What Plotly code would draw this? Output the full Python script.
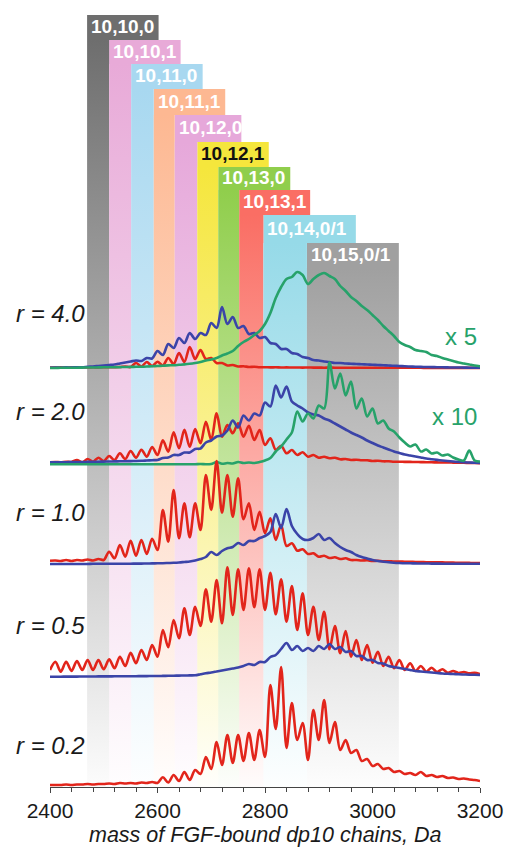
import plotly.graph_objects as go

# ---------------- data ----------------
MASS = [2400, 2410, 2420, 2430, 2440, 2450, 2460, 2470, 2480, 2490,
        2500, 2510, 2520, 2530, 2540, 2550, 2560, 2570, 2580, 2590,
        2600, 2610, 2620, 2630, 2640, 2650, 2660, 2670, 2680, 2690,
        2700, 2710, 2720, 2730, 2740, 2750, 2760, 2770, 2780, 2790,
        2800, 2810, 2820, 2830, 2840, 2850, 2860, 2870, 2880, 2890,
        2900, 2910, 2920, 2930, 2940, 2950, 2960, 2970, 2980, 2990,
        3000, 3010, 3020, 3030, 3040, 3050, 3060, 3070, 3080, 3090,
        3100, 3110, 3120, 3130, 3140, 3150, 3160, 3170, 3180, 3190, 3200]

# r = 4.0
RED_40 = [0.5, 0.5, 0.6, 0.5, 0.6, 0.5, 0.7, 0.6, 0.7, 0.6, 0.8, 0.7, 0.8,
          1, 1.5, 1,
          5, 1.5, 6, 2, 6.3, 2.5, 10, 4, 15, 6,
          21, 9, 18, 9, 10, 5, 5, 2.5, 3, 1.5,
          1.8, 1, 1.2, 0.8,
          0.8, 0.6, 0.7, 0.5, 0.6, 0.5, 0.5, 0.4, 0.5, 0.4,
          0.4, 0.3, 0.4, 0.3, 0.3, 0.3, 0.3, 0.2, 0.3, 0.2,
          0.2, 0.2, 0.2, 0.2, 0.2, 0.2, 0.2, 0.2, 0.2, 0.2,
          0.1, 0.1, 0.1, 0.1, 0.1, 0.1, 0.1, 0.1, 0.1, 0.1, 0.1]
BLUE_40 = [0.3, 0.5, 0.3, 0.6, 0.5, 0.8, 0.7, 1.2, 1.5, 2, 2.5,
           3, 3.5, 4.5, 5.5, 6.5, 7.5, 7, 10, 9.5, 17,
           13, 24, 20, 30, 25, 35, 29, 35, 33, 45,
           40, 61, 44, 51, 40, 42, 34, 35, 30, 31,
           25, 24, 19, 19, 15, 14, 11, 10, 8, 7.5,
           6.5, 6, 5, 5, 4.5, 4.3, 4, 3.8, 3.5, 3.3,
           3, 2.8, 2.5, 2.2, 2, 1.7, 1.5, 1.3, 1.1, 1,
           0.9, 0.8, 0.7, 0.6, 0.5, 0.5, 0.4, 0.3, 0.3, 0.2]
GREEN_40 = [0, 0, 0.2, 0.2, 0.3, 0.3, 0.4, 0.5, 0.5, 0.6, 0.7,
            0.8, 0.8, 0.9, 1, 1.1, 1.2, 1.3, 1.5, 1.8, 2,
            2.3, 2.6, 2.8, 3.2, 3.6, 4.2, 5, 6, 7.5, 8.5,
            10, 12.5, 14.5, 17, 22, 26, 29, 33, 37, 44,
            55, 70, 81, 89, 91, 96, 93, 84, 89, 93,
            95, 92, 89, 82, 77, 71, 67, 62, 58, 53,
            48, 42, 37, 32, 26, 23, 21, 18, 17, 16,
            13, 12, 10, 8.5, 7, 5.5, 4.5, 3.5, 2.5, 1.7]

# r = 2.0
RED_20 = [1.2, 1.5, 1.2, 1.8, 1.5, 3.5, 1.2, 4.5, 1.8, 5.8, 2.5,
          7.5, 3.5, 10.2, 4.5, 12.5, 5.8, 13.8, 6.8, 16.5, 8.5,
          23.2, 11.8, 31.2, 15.2, 33.8, 16.8, 34.5, 20.2, 41.8, 23.5,
          50.2, 26.8, 38.5, 30.2, 40.2, 26.8, 37.8, 23.5, 33.5, 18.5,
          25.2, 13.5, 17.8, 10.2, 13.5, 8.5, 11.2, 6.8, 8.5, 5.8,
          6.8, 5.2, 5.8, 4.2, 4.5, 3.5, 3.8, 3.2, 3.2, 2.5,
          2.8, 2.2, 2.2, 1.8, 1.8, 1.6, 1.6, 1.5, 1.4, 1.3,
          1.2, 1.1, 1.0, 1.0, 0.9, 0.8, 0.7, 0.6, 0.5, 0.4]
BLUE_20 = [1.2, 1.2, 1.3, 1.3, 1.4, 1.5, 1.5, 1.6, 1.7, 1.8, 1.9,
           2.0, 2.1, 2.2, 2.3, 2.4, 2.5, 2.7, 3.0, 3.3, 3.6,
           5.5, 6, 8.5, 8.5, 11, 11, 14.5, 15, 21, 23,
           27, 28, 33, 43, 36, 48, 43, 50, 48, 61,
           57, 78, 66, 77, 62, 58, 55, 51, 49, 48,
           45, 43, 40, 37, 34, 31, 28.5, 26, 23, 20.5,
           18, 16, 14, 12, 10.5, 9, 8, 7, 6, 5,
           4.3, 3.6, 3, 2.5, 2, 1.6, 1.2, 1, 0.8, 0.6]
GREEN_20 = [-0.8, -0.8, -0.8, -0.8, -0.8, -0.8, -0.8, -0.8, -0.8, -0.8, -0.8,
            -0.8, -0.8, -0.8, -0.8, -0.8, -0.8, -0.8, -0.8, -0.8, -0.8,
            -0.8, -0.8, -0.8, -0.8, -0.8, -0.8, -0.8, -0.5, -0.8, -0.5,
            1.5, -0.3, 0.5, 0, 1.5, 0.5, 1, 0.5, 1.5, 3,
            5.5, 12, 17, 24, 31, 52, 42, 50, 45, 58,
            55, 101, 75, 90, 68, 82, 55, 65, 47, 55,
            40, 43, 35, 32, 26, 21, 17, 19, 12, 14,
            10, 11, 8, 9, 6, 4, 3, 13, 3, 2]

# r = 1.0
RED_10 = [3.3, 3.5, 3, 4, 3, 4, 3.5, 4.5, 3.5, 5, 4,
          12.3, 5.7, 19, 7.3, 23.3, 8.3, 24, 10, 25.3, 14,
          54, 22.3, 74, 25.7, 60.7, 26.7, 60.7, 34, 89, 54,
          103, 51.3, 89, 47.3, 85.7, 44.7, 60.7, 34, 52.3, 30.7,
          45.7, 24, 39, 18, 20.7, 13.3, 14.7, 10, 10.7, 7.3,
          8.3, 6, 6.7, 5, 5.7, 4, 4, 3.5, 3.8, 3,
          3.2, 2.7, 2.8, 2.4, 2.5, 2.2, 2.2, 2, 2, 1.8,
          1.8, 1.6, 1.6, 1.4, 1.4, 1.2, 1.2, 1.1, 1, 1]
BLUE_10 = [0, 0, 0, 0, 0, 0, 0, 0, 0.2, 0.2, 0.2,
           0.2, 0.3, 0.3, 0.3, 0.3, 0.4, 0.4, 0.5, 0.6, 0.7,
           0.8, 1.0, 1.2, 1.5, 2, 2.5, 3.5, 5, 7, 12,
           9, 13, 15.7, 17, 21, 19, 23, 23, 26, 28,
           32, 50, 36, 55, 38, 30, 25, 24, 26, 30,
           24, 26, 21, 17, 14, 12, 9, 7, 5.5, 4,
           3, 2.3, 1.7, 1.3, 1, 0.8, 0.7, 0.6, 0.5, 0.5,
           0.4, 0.4, 0.3, 0.3, 0.3, 0.2, 0.2, 0.2, 0.2, 0.2]

# r = 0.5
RED_05 = [7, 15.3, 5.3, 15.3, 6, 16, 7, 17, 7, 17, 7.7,
          17.7, 8.7, 20.3, 11, 24.3, 13.7, 27, 17, 32, 20.3,
          47, 29.7, 57, 38.7, 68.7, 42, 70.3, 51, 87.7, 55.3,
          97, 53.7, 109.7, 62, 107.7, 67, 108.7, 69.7, 107.7, 67,
          104.3, 62.7, 97.7, 55.3, 91, 47, 83.7, 42, 70.3, 37,
          65.3, 27.7, 51, 23.7, 46, 20.3, 37, 17, 32, 14.3,
          25.3, 11, 20.3, 8.7, 17, 7, 13.7, 6, 11, 5.3,
          9.3, 5, 7.7, 4.3, 6, 4, 5, 3.7, 4.3, 3]
BLUE_05 = [0.3, 0.3, 0.3, 0.4, 0.4, 0.4, 0.5, 0.5, 0.5, 0.6, 0.6,
           0.6, 0.7, 0.7, 0.7, 0.8, 0.8, 0.9, 0.9, 1.0, 1.0,
           1.1, 1.2, 1.3, 1.4, 1.5, 1.6, 1.7, 2.7, 3.7, 4.5,
           5.5, 6.5, 7.5, 8.5, 9.5, 11, 13, 12, 15, 15,
           20, 22, 28, 34, 27, 31, 26, 29, 26, 31,
           28, 33, 28, 30, 25, 26, 21, 21, 17, 17,
           14, 13.5, 11, 10, 9, 8, 7, 6, 5.5, 5,
           4.5, 4, 3.5, 3.2, 3, 2.7, 2.5, 2.3, 2.2, 2]

# r = 0.2
RED_02 = [1, 1, 1, 1.5, 1, 1.5, 1.5, 2, 1.5, 2, 2,
          2.5, 2, 3, 2.5, 3, 2.5, 3.5, 3, 4, 3,
          8.7, 3.5, 11, 5, 14, 6, 16, 12, 29, 17,
          44, 21, 51, 23, 51, 25, 53, 26, 56, 29,
          101, 57, 119, 38, 83, 46, 63, 26, 76, 46,
          86, 43, 64, 36, 46, 33, 36, 25, 27, 20,
          22, 17, 18, 14, 15, 12, 13, 11, 14, 10,
          11, 9, 10, 8, 8.5, 7, 7.5, 6.5, 6, 5]

RATIOS = ["4.0", "2.0", "1.0", "0.5", "0.2"]
SERIES = {
    "4.0": [("red", RED_40), ("blue", BLUE_40), ("green", GREEN_40)],
    "2.0": [("red", RED_20), ("blue", BLUE_20), ("green", GREEN_20)],
    "1.0": [("red", RED_10), ("blue", BLUE_10)],
    "0.5": [("red", RED_05), ("blue", BLUE_05)],
    "0.2": [("red", RED_02)],
}
SCALE_LABELS = {"4.0": "x 5", "2.0": "x 10"}

BAND_LABELS = ["10,10,0", "10,10,1", "10,11,0", "10,11,1", "10,12,0",
               "10,12,1", "10,13,0", "10,13,1", "10,14,0/1", "10,15,0/1"]
BAND_EDGES = [2469, 2510, 2551, 2593, 2632, 2674, 2713, 2752, 2797, 2878, 3049]

TICKS = [2400, 2600, 2800, 3000, 3200]
X_TITLE = "mass of FGF-bound dp10 chains, Da"

# ---------------- layout / style ----------------
W, H = 506, 847
ML, MR, MT, MB = 50, 26, 0, 60
PH = H - MT - MB          # plot height in px (y axis in px units)
PW = W - ML - MR

BAND_COLORS = [(110, 110, 110), (232, 170, 216), (168, 216, 240), (253, 184, 146),
               (230, 168, 218), (245, 230, 60), (144, 206, 76), (250, 110, 100),
               (150, 218, 232), (160, 160, 160)]
LABEL_TEXT_COLOR = ["white"] * 5 + ["#111111"] + ["white"] * 4
LABEL_RIGHT = [2602, 2643, 2684, 2726, 2756, 2807, 2847, 2884, 2969, 3049]
LABEL_TOP_PX = [15, 40, 64, 89, 115, 142, 167, 190, 215, 243, 268]

BASELINE_PX = {"4.0": 368, "2.0": 463.5, "1.0": 564, "0.5": 677, "0.2": 786}
RLABEL_PX = {"4.0": 313.5, "2.0": 411.7, "1.0": 512.3, "0.5": 625, "0.2": 745}
SCALE_PX = {"4.0": 336.7, "2.0": 416.7}
COLORS = {"red": "#E2251B", "blue": "#3B44A8", "green": "#27A26A"}
FONT = "Liberation Sans, Arial, Helvetica, sans-serif"


def ypx(py):
    return PH - py


fig = go.Figure()

# gradient bands
for i, lab in enumerate(BAND_LABELS):
    x0, x1 = BAND_EDGES[i], BAND_EDGES[i + 1]
    ytop = ypx(LABEL_TOP_PX[i + 1])
    r, g, b = BAND_COLORS[i]
    fig.add_trace(go.Scatter(
        x=[x0, x1, x1, x0, x0], y=[0, 0, ytop, ytop, 0],
        mode="lines", line=dict(width=0), fill="toself",
        fillgradient=dict(type="vertical",
                          colorscale=[[0, f"rgba({r},{g},{b},0.02)"],
                                      [1, f"rgba({r},{g},{b},1)"]],
                          start=0, stop=ytop),
        hoverinfo="skip", showlegend=False))
    # label box
    fig.add_shape(type="rect", xref="x", yref="y", layer="below",
                  x0=x0, x1=LABEL_RIGHT[i],
                  y0=ypx(LABEL_TOP_PX[i + 1]), y1=ypx(LABEL_TOP_PX[i]),
                  fillcolor=f"rgb({r},{g},{b})", line=dict(width=0))
    fig.add_annotation(x=x0, y=ypx((LABEL_TOP_PX[i] + LABEL_TOP_PX[i + 1]) / 2),
                       xref="x", yref="y", xanchor="left", yanchor="middle",
                       xshift=2, yshift=1, showarrow=False,
                       text=f"<b>{lab}</b>",
                       font=dict(family=FONT, size=19, color=LABEL_TEXT_COLOR[i]))

# spectra
for rkey in RATIOS:
    base = ypx(BASELINE_PX[rkey])
    for cname, vals in SERIES[rkey]:
        fig.add_trace(go.Scatter(
            x=MASS, y=[base + v for v in vals], mode="lines",
            line=dict(color=COLORS[cname], width=2.6, shape="spline", smoothing=0.9),
            hoverinfo="skip", showlegend=False))
    fig.add_annotation(x=(14 - ML) / PW, xref="paper", y=ypx(RLABEL_PX[rkey]), yref="y",
                       xanchor="left", yanchor="middle", showarrow=False,
                       text=f"<i>r = {rkey}</i>",
                       font=dict(family=FONT, size=24, color="#1a1a1a"))
    if rkey in SCALE_LABELS:
        fig.add_annotation(x=(479 - ML) / PW, xref="paper", y=ypx(SCALE_PX[rkey]), yref="y",
                           xanchor="right", yanchor="middle", showarrow=False,
                           text=SCALE_LABELS[rkey],
                           font=dict(family=FONT, size=24, color=COLORS["green"]))

fig.add_annotation(x=0.5, xref="paper", y=-(834.5 - PH) / PH, yref="paper",
                   xanchor="center", yanchor="middle", showarrow=False,
                   text=f"<i>{X_TITLE}</i>",
                   font=dict(family=FONT, size=21.5, color="#1a1a1a"))

fig.update_xaxes(range=[2400, 3200], tickvals=TICKS, ticktext=[str(t) for t in TICKS],
                 ticks="outside", ticklen=5, tickwidth=1, tickcolor="#444444",
                 showline=True, linecolor="#444444", linewidth=1,
                 showgrid=False, zeroline=False,
                 tickfont=dict(family=FONT, size=21, color="#1a1a1a"),
                 minor=dict(dtick=40, tick0=2400, ticks="outside", ticklen=4,
                            tickcolor="#444444", tickwidth=1, showgrid=False))
fig.update_yaxes(range=[0, PH], visible=False, fixedrange=True)

fig.update_layout(width=W, height=H, autosize=False,
                  margin=dict(l=ML, r=MR, t=MT, b=MB, pad=0),
                  plot_bgcolor="white", paper_bgcolor="white", showlegend=False)

fig.write_html("out.html",
               config={"displayModeBar": False, "staticPlot": True},
               post_script="document.body.style.margin='0';"
                           "document.body.style.overflow='hidden';")
